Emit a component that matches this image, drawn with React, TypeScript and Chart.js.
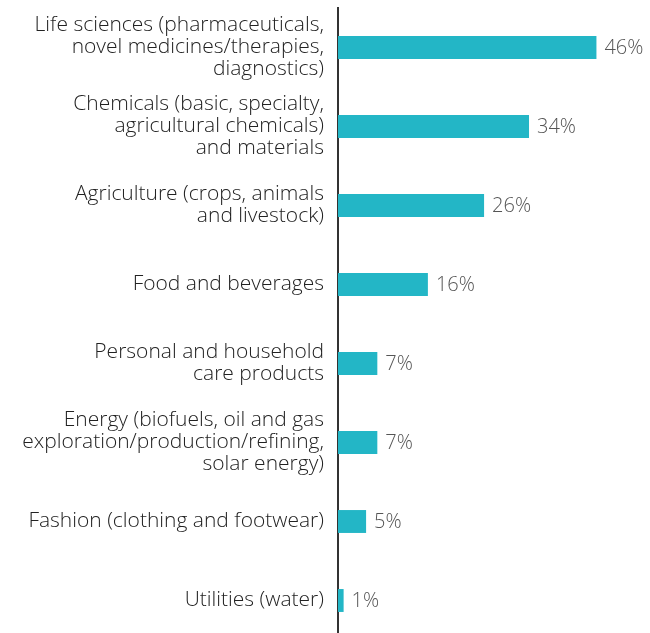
import React, { useEffect, useRef } from "react";
import { Chart, registerables } from "chart.js";

Chart.register(...registerables);

const categories: string[][] = [
  ["Life sciences (pharmaceuticals,", "novel medicines/therapies,", "diagnostics)"],
  ["Chemicals (basic, specialty,", "agricultural chemicals)", "and materials"],
  ["Agriculture (crops, animals", "and livestock)"],
  ["Food and beverages"],
  ["Personal and household", "care products"],
  ["Energy (biofuels, oil and gas", "exploration/production/refining,", "solar energy)"],
  ["Fashion (clothing and footwear)"],
  ["Utilities (water)"],
];
const values: number[] = [46, 34, 26, 16, 7, 7, 5, 1];
const valueLabels: string[] = ["46%", "34%", "26%", "16%", "7%", "7%", "5%", "1%"];

const FONT = "'Open Sans', 'Noto Sans', sans-serif";

const valuePlugin = {
  id: "valueLabels",
  afterDatasetsDraw(chart: any) {
    const ctx = chart.ctx;
    const meta = chart.getDatasetMeta(0);
    ctx.save();
    ctx.font = `300 20px ${FONT}`;
    ctx.fillStyle = "#555555";
    ctx.textAlign = "left";
    ctx.textBaseline = "middle";
    meta.data.forEach((bar: any, i: number) => {
      ctx.fillText(valueLabels[i], bar.x + 8, bar.y + 1);
    });
    ctx.restore();
  },
};

export default function App() {
  const ref = useRef<HTMLCanvasElement>(null);
  useEffect(() => {
    if (!ref.current) return;
    const chart = new Chart(ref.current, {
      type: "bar",
      data: {
        labels: categories,
        datasets: [
          {
            data: values,
            backgroundColor: "#23b6c6",
            borderWidth: 0,
            barPercentage: 0.29,
            categoryPercentage: 1,
          },
        ],
      },
      options: {
        indexAxis: "y",
        animation: false,
        responsive: false,
        maintainAspectRatio: false,
        layout: { padding: { top: 8, right: 3, bottom: 0, left: 0 } },
        plugins: {
          legend: { display: false },
          tooltip: { enabled: false },
        },
        scales: {
          x: {
            display: false,
            min: 0,
            max: 55,
          },
          y: {
            grid: { display: false, drawTicks: false },
            border: { display: true, color: "#333333", width: 2 },
            ticks: {
              color: "#222222",
              padding: 14,
              font: { family: FONT, size: 21, weight: "300", lineHeight: 22 / 21 },
            },
            afterFit(scale: any) {
              scale.width = 338;
              scale.paddingTop = 0;
              scale.paddingBottom = 0;
            },
          },
        },
      },
      plugins: [valuePlugin],
    });
    return () => chart.destroy();
  }, []);
  return (
    <div style={{ position: "absolute", left: 0, top: 0, width: 650, height: 640, background: "#fff" }}>
      <canvas ref={ref} width={650} height={640} style={{ width: 650, height: 640, display: "block" }} />
    </div>
  );
}
